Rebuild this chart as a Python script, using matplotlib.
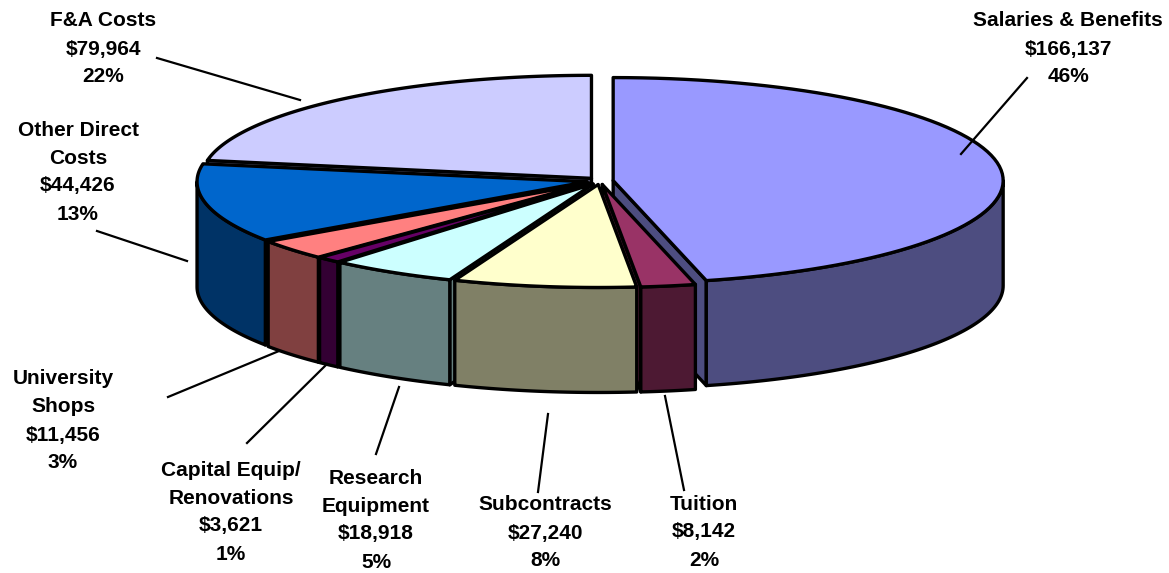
import numpy as np
import matplotlib
matplotlib.use('Agg')
import matplotlib.pyplot as plt
from matplotlib.patches import Polygon

plt.rcParams['font.family'] = ['Liberation Sans', 'DejaVu Sans']

# clockwise from 12 o'clock
categories = ['Salaries & Benefits', 'Tuition', 'Subcontracts', 'Research\nEquipment',
              'Capital Equip/\nRenovations', 'University\nShops', 'Other Direct\nCosts', 'F&A Costs']
amounts = [166137, 8142, 27240, 18918, 3621, 11456, 44426, 79964]
amount_labels = ['$166,137', '$8,142', '$27,240', '$18,918', '$3,621', '$11,456', '$44,426', '$79,964']
pct_labels = ['46%', '2%', '8%', '5%', '1%', '3%', '13%', '22%']
top_colors = ['#9999FF', '#993366', '#FFFFCC', '#CCFFFF', '#660066', '#FF8080', '#0066CC', '#CCCCFF']
side_colors = ['#4D4D80', '#4D1933', '#808066', '#668080', '#330033', '#804040', '#003366', '#666680']

# label centre x, first line y, and leader line ends
label_x = [1068, 704, 545, 376, 231, 63, 78, 103]
label_y = [21, 504, 505, 478, 470, 379, 130, 21]
leaders = [((1027, 78), (961, 154)), ((684, 490), (665, 396)), ((538, 492), (548, 414)),
           ((376, 454), (399, 387)), ((247, 443), (327, 364)), ((168, 397), (279, 351)),
           ((97, 231), (187, 261)), ((157, 58), (300, 100))]

cx, cy = 600, 181
rx, ry = 390, 103
depth = 105
explode = 0.034
edge = 2.4
# back to front
draw_order = [7, 0, 6, 5, 4, 3, 1, 2]

fig = plt.figure(figsize=(11.69, 5.73), dpi=100)
ax = fig.add_axes([0, 0, 1, 1])
ax.set_xlim(0, 1169)
ax.set_ylim(573, 0)
ax.axis('off')

fracs = np.array(amounts) / sum(amounts)
edges = np.concatenate([[0], np.cumsum(fracs)]) * 2 * np.pi


def arc(ox, oy, a, b, n=80):
    t = np.linspace(a, b, n)
    return np.column_stack([ox + rx * np.sin(t), oy - ry * np.cos(t)])


def add_poly(pts, color):
    ax.add_patch(Polygon(pts, closed=True, facecolor=color, edgecolor='black',
                         linewidth=edge, joinstyle='round'))


for i in draw_order:
    a, b = edges[i], edges[i + 1]
    mid = (a + b) / 2
    ox = cx + explode * rx * np.sin(mid)
    oy = cy - explode * ry * np.cos(mid)
    apex = np.array([ox, oy])
    down = np.array([0, depth])

    # radial cut faces, only the ones turned towards the viewer
    if np.sin(a) < -1e-6:
        p = arc(ox, oy, a, a, 1)[0]
        add_poly([apex, p, p + down, apex + down], side_colors[i])
    if np.sin(b) > 1e-6:
        p = arc(ox, oy, b, b, 1)[0]
        add_poly([apex, p, p + down, apex + down], side_colors[i])

    # outer wall, only the front half shows
    lo, hi = max(a, np.pi / 2), min(b, 3 * np.pi / 2)
    if lo < hi:
        wall = arc(ox, oy, lo, hi)
        add_poly(np.vstack([wall, (wall + down)[::-1]]), side_colors[i])

    add_poly(np.vstack([apex, arc(ox, oy, a, b)]), top_colors[i])

for i in range(len(categories)):
    lines = categories[i].split('\n') + [amount_labels[i], pct_labels[i]]
    for j, line in enumerate(lines):
        ax.text(label_x[i], label_y[i] + j * 28, line, ha='center', va='center',
                fontsize=15, fontweight='bold', color='black')
    (x0, y0), (x1, y1) = leaders[i]
    ax.plot([x0, x1], [y0, y1], color='black', linewidth=1.6)

fig.savefig('out.png', dpi=100, facecolor='white')
